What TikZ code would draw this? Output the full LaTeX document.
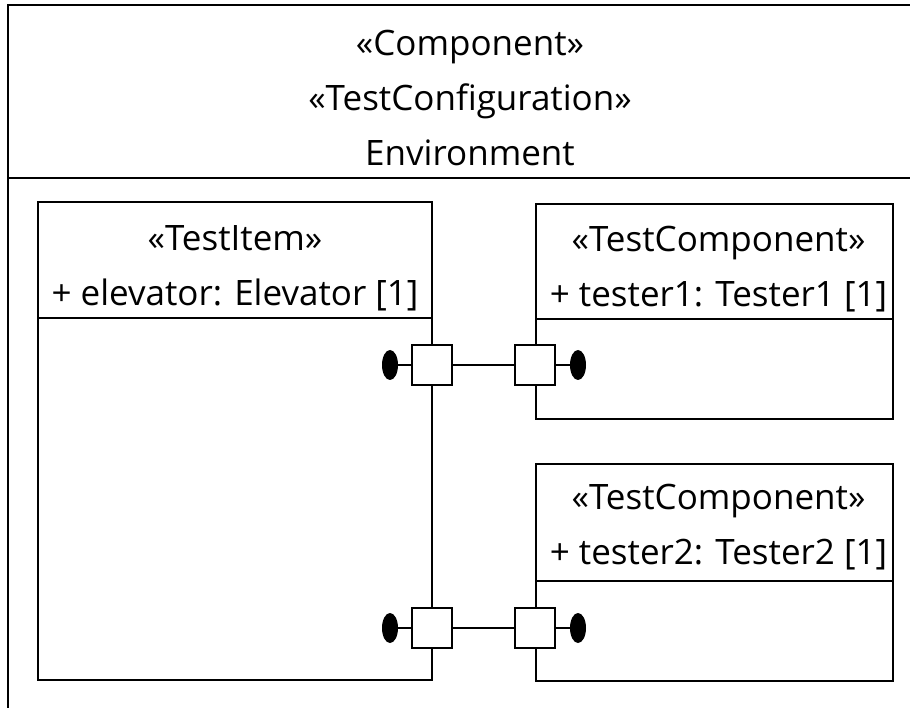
\documentclass[tikz,border=0pt]{standalone}
\usepackage{fontspec}
\setmainfont{Open Sans}
\usetikzlibrary{positioning,shapes.geometric}
\tikzset{
  partbox/.style={draw, line width=1.8pt, rectangle, inner sep=0pt},
  parttext/.style={align=center, font=\fontsize{35}{55}\selectfont, inner sep=0pt},
  portbox/.style={draw, line width=1.8pt, fill=white, minimum size=40pt, inner sep=0pt},
  portball/.style={ellipse, fill=black, minimum width=16pt, minimum height=30pt, inner sep=0pt},
  wire/.style={line width=1.8pt}
}

\begin{document}
\begin{tikzpicture}[x=1pt, y=-1pt]
  \clip (0,0) rectangle (910,708);
  % the configuration frame runs off the right and bottom edge
  \node[partbox, minimum width=1000pt, minimum height=800pt, anchor=north west] (env) at (7,4) {};
  \draw[wire] ([yshift=-174pt]env.north west) -- ([yshift=-174pt]env.north east);
  \node[parttext] (envtitle) at (470,98) {«Component»\\«TestConfiguration»\\Environment};

  % parts
  \node[partbox, minimum width=394pt, minimum height=478pt] (elevator) at (235,441) {};
  \node[partbox, minimum width=357pt, minimum height=215pt] (tester1) at (714.5,311.5) {};
  \node[partbox, minimum width=357pt, minimum height=217pt] (tester2) at (714.5,572.5) {};

  \draw[wire] ([yshift=-117pt]elevator.north west) -- ([yshift=-117pt]elevator.north east);
  \draw[wire] ([yshift=-116pt]tester1.north west) -- ([yshift=-116pt]tester1.north east);
  \draw[wire] ([yshift=-118pt]tester2.north west) -- ([yshift=-118pt]tester2.north east);

  \node[parttext] (elevatorname) at ([yshift=-67pt]elevator.north) {«TestItem»\\+ elevator: Elevator [1]};
  \node[parttext] (tester1name) at ([xshift=4pt,yshift=-66pt]tester1.north) {«TestComponent»\\+ tester1: Tester1 [1]};
  \node[parttext] (tester2name) at ([xshift=4pt,yshift=-64pt]tester2.north) {«TestComponent»\\+ tester2: Tester2 [1]};

  % ports
  \node[portbox] (elevatorp1) at (432,365) {};
  \node[portbox] (elevatorp2) at (432,628) {};
  \node[portbox] (tester1p) at (535,365) {};
  \node[portbox] (tester2p) at (535,628) {};

  \node[portball] (elevatorb1) at (390,365) {};
  \node[portball] (elevatorb2) at (390,628) {};
  \node[portball] (tester1b) at (578,365) {};
  \node[portball] (tester2b) at (578,628) {};

  \draw[wire] (elevatorb1) -- (elevatorp1);
  \draw[wire] (elevatorb2) -- (elevatorp2);
  \draw[wire] (tester1b) -- (tester1p);
  \draw[wire] (tester2b) -- (tester2p);

  % connectors
  \draw[wire] (elevatorp1) -- (tester1p);
  \draw[wire] (elevatorp2) -- (tester2p);
\end{tikzpicture}
\end{document}
